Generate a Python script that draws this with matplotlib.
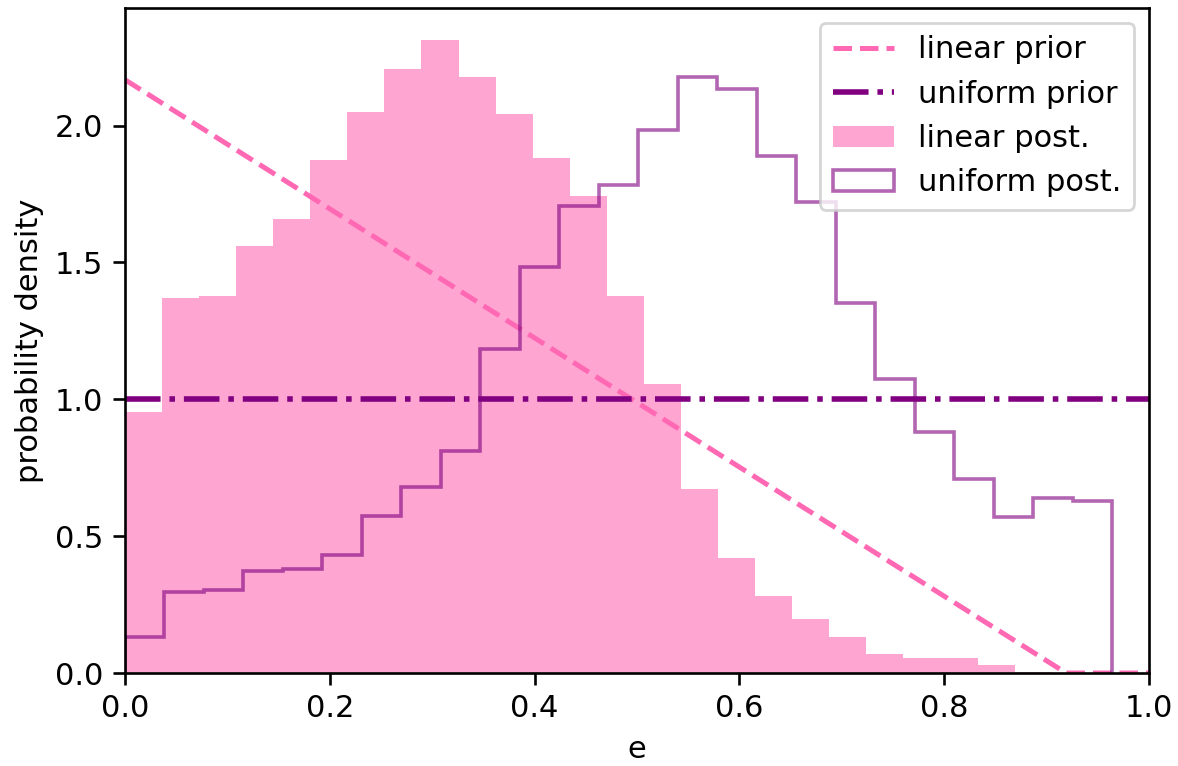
import numpy as np
import matplotlib
matplotlib.use("Agg")
import matplotlib.pyplot as plt

# posterior with linear prior (density per bin)
lin_post = [0.955, 1.372, 1.378, 1.559, 1.66, 1.876, 2.05, 2.208, 2.314, 2.179,
            2.043, 1.882, 1.744, 1.376, 1.057, 0.674, 0.42, 0.28, 0.197, 0.13,
            0.07, 0.056, 0.056, 0.029, 0.005]
lin_edges = np.linspace(0, 0.905, 26)

# posterior with uniform prior
uni_post = [0.13, 0.297, 0.305, 0.372, 0.381, 0.431, 0.574, 0.68, 0.813, 1.183,
            1.483, 1.705, 1.782, 1.983, 2.179, 2.134, 1.888, 1.72, 1.353, 1.074,
            0.882, 0.71, 0.571, 0.639, 0.63]
uni_edges = np.linspace(0, 0.964, 26)

# priors
lin_prior_e = [0.0, 0.919, 1.0]
lin_prior_p = [2.168, 0.0, 0.0]
uni_prior_e = [0.0, 1.0]
uni_prior_p = [1.0, 1.0]

plt.rcParams['font.size'] = 11
plt.rcParams['axes.linewidth'] = 0.95
plt.rcParams['xtick.major.width'] = 0.95
plt.rcParams['ytick.major.width'] = 0.95
plt.rcParams['xtick.major.size'] = 4.2
plt.rcParams['ytick.major.size'] = 4.2

fig, ax = plt.subplots(figsize=(5.89, 3.83), dpi=200)
fig.subplots_adjust(left=0.106, right=0.9754, top=0.9896, bottom=0.1214)

lin_centers = (lin_edges[:-1] + lin_edges[1:]) / 2
uni_centers = (uni_edges[:-1] + uni_edges[1:]) / 2

ax.plot(lin_prior_e, lin_prior_p, '--', color='hotpink', lw=1.8, label='linear prior')
ax.plot(uni_prior_e, uni_prior_p, '-.', color='purple', lw=2.0, label='uniform prior')
ax.hist(lin_centers, bins=lin_edges, weights=lin_post, color='hotpink', alpha=0.6,
        label='linear post.')
ax.hist(uni_centers, bins=uni_edges, weights=uni_post, histtype='step', color='purple',
        alpha=0.6, lw=1.3, label='uniform post.')

ax.set_xlim(0, 1)
ax.set_ylim(0, 2.43)
ax.set_xlabel('e')
ax.set_ylabel('probability density')
ax.legend(loc='upper right')

fig.savefig('out.png', dpi=200)
